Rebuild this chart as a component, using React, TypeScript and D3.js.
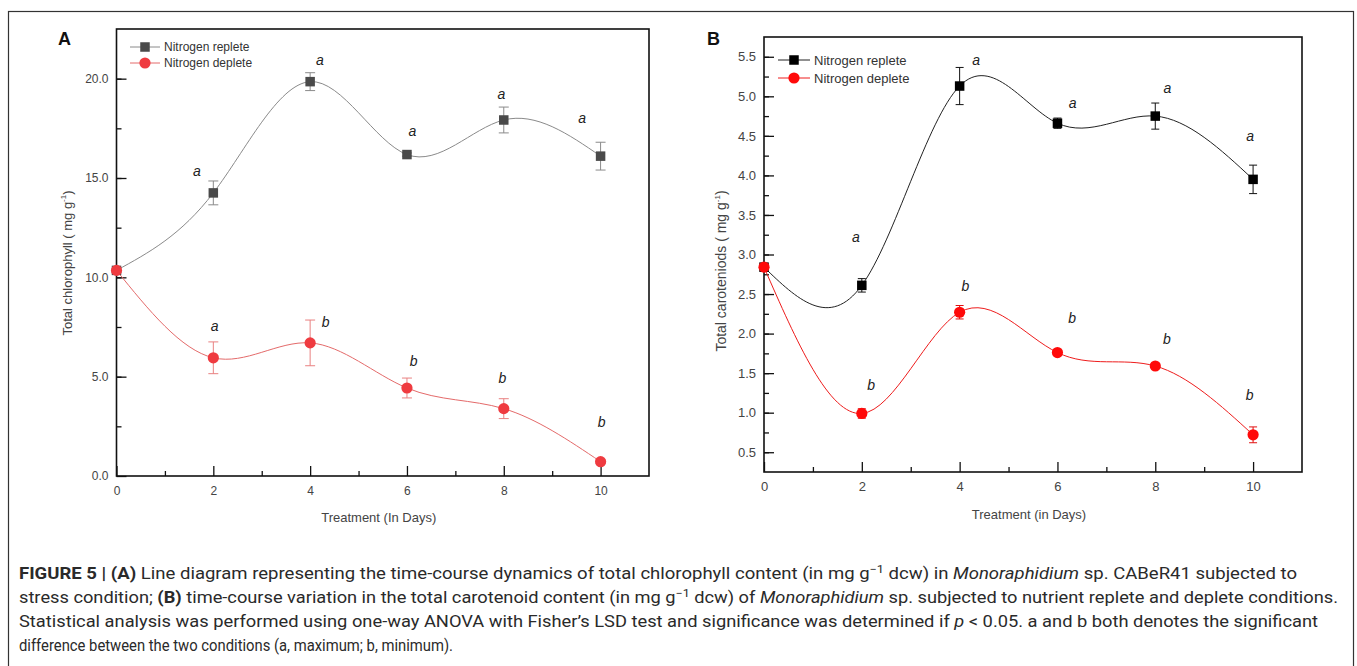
import * as d3 from "d3";
import React, { useEffect, useRef } from "react";

// sampling days
const days = [0, 2, 4, 6, 8, 10];

// (A) total chlorophyll, mg g-1
const chlRepleteMean = [10.35, 14.25, 19.85, 16.18, 17.92, 16.1];
const chlRepleteErr = [0, 0.6, 0.45, 0.08, 0.65, 0.7];
const chlDepleteMean = [10.35, 5.95, 6.7, 4.43, 3.39, 0.72];
const chlDepleteErr = [0, 0.8, 1.15, 0.5, 0.5, 0.08];

// (B) total carotenoids, mg g-1
const carRepleteMean = [2.84, 2.61, 5.13, 4.66, 4.75, 3.95];
const carRepleteErr = [0, 0.085, 0.235, 0.065, 0.165, 0.18];
const carDepleteMean = [2.84, 0.99, 2.27, 1.76, 1.59, 0.72];
const carDepleteErr = [0.04, 0.06, 0.085, 0.03, 0.03, 0.1];

// significance letters (anchored in data units: day, value)
const chlRepleteLetters = ["a", "a", "a", "a", "a"];
const chlRepleteLetterDay = [1.66, 4.2, 6.11, 7.95, 9.62];
const chlRepleteLetterVal = [15.33, 20.93, 17.35, 19.21, 18.0];
const chlDepleteLetters = ["a", "b", "b", "b", "b"];
const chlDepleteLetterDay = [2.03, 4.32, 6.14, 7.97, 10.02];
const chlDepleteLetterVal = [7.56, 7.77, 5.8, 4.94, 2.72];

const carRepleteLetters = ["a", "a", "a", "a", "a"];
const carRepleteLetterDay = [1.88, 4.34, 6.31, 8.25, 9.94];
const carRepleteLetterVal = [3.22, 5.46, 4.91, 5.1, 4.5];
const carDepleteLetters = ["b", "b", "b", "b", "b"];
const carDepleteLetterDay = [2.19, 4.12, 6.3, 8.24, 9.93];
const carDepleteLetterVal = [1.35, 2.6, 2.2, 1.93, 1.22];

const legendLabels = ["Nitrogen replete", "Nitrogen deplete"];

const FONT = "'Liberation Sans', Arial, sans-serif";

function drawPanel(svg, cfg) {
  const x = d3.scaleLinear().domain([0, 11]).range([cfg.left, cfg.right]);
  const y = d3.scaleLinear().domain(cfg.yDomain).range([cfg.bottom, cfg.top]);
  const g = svg.append("g");

  // minor ticks
  const yMinor = d3.range(cfg.yDomain[0], cfg.yDomain[1] + 1e-9, cfg.yMinorStep)
    .filter((v) => v > cfg.yDomain[0] + 1e-9 && v < cfg.yDomain[1] - 1e-9);
  g.append("g")
    .attr("transform", `translate(${cfg.left},0)`)
    .call(d3.axisLeft(y).tickValues(yMinor).tickSize(-5).tickFormat(() => ""))
    .call((a) => a.select(".domain").remove())
    .selectAll("line").attr("stroke", "#111").attr("stroke-width", 1.3);
  g.append("g")
    .attr("transform", `translate(0,${cfg.bottom})`)
    .call(d3.axisBottom(x).tickValues([1, 3, 5, 7, 9]).tickSize(-5).tickFormat(() => ""))
    .call((a) => a.select(".domain").remove())
    .selectAll("line").attr("stroke", "#111").attr("stroke-width", 1.3);

  // major ticks + labels
  const yAx = g.append("g")
    .attr("transform", `translate(${cfg.left},0)`)
    .call(d3.axisLeft(y).tickValues(cfg.yTicks).tickSize(-10).tickPadding(8).tickFormat(d3.format(".1f")));
  yAx.select(".domain").remove();
  yAx.selectAll("line").attr("stroke", "#111").attr("stroke-width", 1.3);
  yAx.selectAll("text").attr("font-family", FONT).attr("font-size", cfg.tickFont).attr("fill", "#444");

  const xAx = g.append("g")
    .attr("transform", `translate(0,${cfg.bottom})`)
    .call(d3.axisBottom(x).tickValues(days).tickSize(-10).tickPadding(10).tickFormat(d3.format("d")));
  xAx.select(".domain").remove();
  xAx.selectAll("line").attr("stroke", "#111").attr("stroke-width", 1.3);
  xAx.selectAll("text").attr("font-family", FONT).attr("font-size", cfg.tickFont).attr("fill", "#444");

  // frame
  g.append("rect")
    .attr("x", cfg.left).attr("y", cfg.top)
    .attr("width", cfg.right - cfg.left).attr("height", cfg.bottom - cfg.top)
    .attr("fill", "none").attr("stroke", "#111").attr("stroke-width", 1.6);

  // series
  cfg.series.forEach((s) => {
    const pts = days.map((d, i) => [x(d), y(s.mean[i])]);
    g.append("path")
      .attr("d", d3.line().curve(d3.curveNatural)(pts))
      .attr("fill", "none").attr("stroke", s.lineColor).attr("stroke-width", 1);

    days.forEach((d, i) => {
      if (s.err[i] <= 0) return;
      const cx = x(d), y0 = y(s.mean[i] - s.err[i]), y1 = y(s.mean[i] + s.err[i]);
      const hw = cfg.capWidth / 2;
      g.append("path")
        .attr("d", `M${cx},${y0}V${y1}M${cx - hw},${y0}H${cx + hw}M${cx - hw},${y1}H${cx + hw}`)
        .attr("stroke", s.errColor).attr("stroke-width", 1).attr("fill", "none");
    });
  });

  cfg.series.forEach((s) => {
    days.forEach((d, i) => {
      const cx = x(d), cy = y(s.mean[i]);
      if (s.marker === "square") {
        g.append("rect").attr("x", cx - 4.75).attr("y", cy - 4.75)
          .attr("width", 9.5).attr("height", 9.5).attr("fill", s.color);
      } else {
        g.append("circle").attr("cx", cx).attr("cy", cy).attr("r", 5.6).attr("fill", s.color);
      }
    });
    s.letters.forEach((t, i) => {
      g.append("text")
        .attr("x", x(s.letterDay[i])).attr("y", y(s.letterVal[i]))
        .attr("text-anchor", "middle").attr("dominant-baseline", "central")
        .attr("font-family", FONT).attr("font-style", "italic")
        .attr("font-size", 14).attr("fill", "#222")
        .text(t);
    });
  });

  // legend
  cfg.series.forEach((s, i) => {
    const ly = cfg.legend.y + i * cfg.legend.gap;
    g.append("line")
      .attr("x1", cfg.legend.x1).attr("x2", cfg.legend.x2)
      .attr("y1", ly).attr("y2", ly)
      .attr("stroke", s.lineColor).attr("stroke-width", 1);
    const mx = (cfg.legend.x1 + cfg.legend.x2) / 2;
    if (s.marker === "square") {
      g.append("rect").attr("x", mx - 4.75).attr("y", ly - 4.75)
        .attr("width", 9.5).attr("height", 9.5).attr("fill", s.color);
    } else {
      g.append("circle").attr("cx", mx).attr("cy", ly).attr("r", 5.6).attr("fill", s.color);
    }
    g.append("text")
      .attr("x", cfg.legend.x2 + 4).attr("y", ly)
      .attr("dominant-baseline", "central")
      .attr("font-family", FONT).attr("font-size", cfg.legend.font).attr("fill", "#333")
      .text(legendLabels[i]);
  });

  // panel letter
  g.append("text")
    .attr("x", cfg.tag.x).attr("y", cfg.tag.y)
    .attr("font-family", FONT).attr("font-weight", "bold").attr("font-size", 18)
    .attr("fill", "#111").text(cfg.tag.text);

  // axis titles
  g.append("text")
    .attr("x", (cfg.left + cfg.right) / 2 - 4).attr("y", cfg.xTitleY)
    .attr("text-anchor", "middle")
    .attr("font-family", FONT).attr("font-size", 13).attr("fill", "#444")
    .text(cfg.xTitle);

  const yt = g.append("text")
    .attr("transform", `translate(${cfg.yTitleX},${cfg.yTitleY}) rotate(-90)`)
    .attr("text-anchor", "middle")
    .attr("font-family", FONT).attr("font-size", cfg.yTitleFont).attr("fill", "#444");
  yt.append("tspan").text(cfg.yTitle + " ( mg g");
  yt.append("tspan").attr("dy", -6).attr("font-size", 8).text("-1");
  yt.append("tspan").attr("dy", 6).text(")");
}

const App = () => {
  const ref = useRef(null);

  useEffect(() => {
    const svg = d3.select(ref.current);
    svg.selectAll("*").remove();

    // outer figure frame
    svg.append("rect")
      .attr("x", 8.5).attr("y", 11.5).attr("width", 1345).attr("height", 680)
      .attr("fill", "none").attr("stroke", "#333").attr("stroke-width", 1.2);

    drawPanel(svg, {
      left: 116.5, right: 649, top: 29, bottom: 476,
      yDomain: [0, 22.5], yTicks: [0, 5, 10, 15, 20], yMinorStep: 2.5,
      tickFont: 12, capWidth: 10,
      tag: { text: "A", x: 58, y: 45 },
      legend: { x1: 130, x2: 160, y: 47, gap: 16, font: 12 },
      xTitle: "Treatment (In Days)", xTitleY: 522,
      yTitle: "Total chlorophyll", yTitleX: 72, yTitleY: 263, yTitleFont: 13,
      series: [
        { mean: chlRepleteMean, err: chlRepleteErr, marker: "square", color: "#4a4a4a",
          lineColor: "#8a8a8a", errColor: "#8a8a8a",
          letters: chlRepleteLetters, letterDay: chlRepleteLetterDay, letterVal: chlRepleteLetterVal },
        { mean: chlDepleteMean, err: chlDepleteErr, marker: "circle", color: "#ef3b40",
          lineColor: "#e46a6a", errColor: "#e98080",
          letters: chlDepleteLetters, letterDay: chlDepleteLetterDay, letterVal: chlDepleteLetterVal }
      ]
    });

    drawPanel(svg, {
      left: 764, right: 1302, top: 37, bottom: 472,
      yDomain: [0.25, 5.75], yTicks: d3.range(0.5, 5.51, 0.5), yMinorStep: 0.25,
      tickFont: 13, capWidth: 8,
      tag: { text: "B", x: 707, y: 45 },
      legend: { x1: 778, x2: 810, y: 60, gap: 18, font: 13 },
      xTitle: "Treatment (in Days)", xTitleY: 519,
      yTitle: "Total caroteniods", yTitleX: 726, yTitleY: 271, yTitleFont: 14,
      series: [
        { mean: carRepleteMean, err: carRepleteErr, marker: "square", color: "#000",
          lineColor: "#222", errColor: "#111",
          letters: carRepleteLetters, letterDay: carRepleteLetterDay, letterVal: carRepleteLetterVal },
        { mean: carDepleteMean, err: carDepleteErr, marker: "circle", color: "#ff0a0a",
          lineColor: "#ee1c1c", errColor: "#e01010",
          letters: carDepleteLetters, letterDay: carDepleteLetterDay, letterVal: carDepleteLetterVal }
      ]
    });

    // caption, each line fitted to the width it has in the figure
    const capFont = "Roboto, 'Liberation Sans', sans-serif";
    const lines = [
      { y: 579, end: 1297, parts: [
        ["FIGURE 5 | (A)", "b"], [" Line diagram representing the time-course dynamics of total chlorophyll content (in mg g", ""],
        ["\u22121", "sup"], [" dcw) in ", ""], ["Monoraphidium", "i"], [" sp. CABeR41 subjected to", ""]] },
      { y: 603, end: 1338, parts: [
        ["stress condition; ", ""], ["(B)", "b"], [" time-course variation in the total carotenoid content (in mg g", ""],
        ["\u22121", "sup"], [" dcw) of ", ""], ["Monoraphidium", "i"], [" sp. subjected to nutrient replete and deplete conditions.", ""]] },
      { y: 627, end: 1318, parts: [
        ["Statistical analysis was performed using one-way ANOVA with Fisher\u2019s LSD test and significance was determined if ", ""],
        ["p", "i"], [" < 0.05. a and b both denotes the significant", ""]] },
      { y: 651, end: 453, parts: [["difference between the two conditions (a, maximum; b, minimum).", ""]] }
    ];
    lines.forEach((ln) => {
      const t = svg.append("text")
        .attr("x", 19).attr("y", ln.y)
        .attr("font-family", capFont).attr("font-size", 16).attr("fill", "#2a2a2a")
        .attr("textLength", ln.end - 19).attr("lengthAdjust", "spacingAndGlyphs");
      let shifted = false;
      ln.parts.forEach(([txt, kind]) => {
        const sp = t.append("tspan").text(txt);
        if (kind === "b") sp.attr("font-weight", "bold");
        if (kind === "i") sp.attr("font-style", "italic");
        if (kind === "sup") { sp.attr("dy", -6).attr("font-size", 11); shifted = true; }
        else if (shifted) { sp.attr("dy", 6); shifted = false; }
      });
    });
  }, []);

  return (
    <svg ref={ref} width={1357} height={666}
      style={{ position: "absolute", left: 0, top: 0, background: "#fff" }} />
  );
};

export default App;
